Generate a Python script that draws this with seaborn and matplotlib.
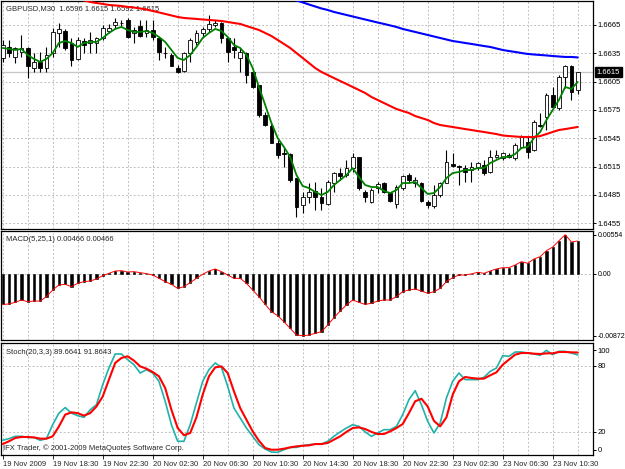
import numpy as np
import matplotlib
matplotlib.use("Agg")
import matplotlib.pyplot as plt
import matplotlib.transforms as mtransforms
import seaborn as sns

# GBPUSD M30 bars
opens = [1.6630, 1.6642, 1.6631, 1.6636, 1.6641, 1.6619, 1.6626, 1.6619, 1.6635, 1.6657,
         1.6659, 1.6646, 1.6629, 1.6648, 1.6646, 1.6646, 1.6651, 1.6659, 1.6665, 1.6667,
         1.6670, 1.6657, 1.6664, 1.6657, 1.6660, 1.6651, 1.6635, 1.6633, 1.6619, 1.6616,
         1.6635, 1.6647, 1.6657, 1.6661, 1.6665, 1.6667, 1.6651, 1.6642, 1.6630, 1.6635,
         1.6615, 1.6601, 1.6570, 1.6558, 1.6540, 1.6529, 1.6528, 1.6503, 1.6474, 1.6483,
         1.6489, 1.6483, 1.6475, 1.6498, 1.6508, 1.6506, 1.6513, 1.6525, 1.6488, 1.6477,
         1.6492, 1.6498, 1.6487, 1.6475, 1.6492, 1.6506, 1.6498, 1.6498, 1.6477, 1.6473,
         1.6485, 1.6498, 1.6518, 1.6516, 1.6513, 1.6511, 1.6515, 1.6517, 1.6509, 1.6525,
         1.6524, 1.6527, 1.6524, 1.6536, 1.6541, 1.6533, 1.6559, 1.6568, 1.6591, 1.6577,
         1.6610, 1.6622, 1.6596]
highs = [1.6649, 1.6649, 1.6642, 1.6654, 1.6642, 1.6635, 1.6636, 1.6642, 1.6662, 1.6667,
         1.6661, 1.6651, 1.6652, 1.6651, 1.6658, 1.6652, 1.6665, 1.6666, 1.6672, 1.6670,
         1.6672, 1.6663, 1.6670, 1.6670, 1.6670, 1.6652, 1.6642, 1.6635, 1.6623, 1.6636,
         1.6651, 1.6660, 1.6663, 1.6676, 1.6670, 1.6668, 1.6652, 1.6651, 1.6641, 1.6636,
         1.6616, 1.6601, 1.6573, 1.6561, 1.6543, 1.6535, 1.6529, 1.6503, 1.6488, 1.6498,
         1.6499, 1.6492, 1.6501, 1.6509, 1.6513, 1.6522, 1.6529, 1.6525, 1.6490, 1.6492,
         1.6499, 1.6499, 1.6488, 1.6495, 1.6506, 1.6508, 1.6504, 1.6499, 1.6480, 1.6495,
         1.6499, 1.6533, 1.6529, 1.6517, 1.6517, 1.6520, 1.6520, 1.6522, 1.6533, 1.6533,
         1.6530, 1.6529, 1.6540, 1.6548, 1.6546, 1.6564, 1.6572, 1.6593, 1.6599, 1.6612,
         1.6623, 1.6623, 1.6615]
lows = [1.6626, 1.6631, 1.6625, 1.6631, 1.6609, 1.6615, 1.6615, 1.6615, 1.6631, 1.6642,
        1.6639, 1.6621, 1.6628, 1.6635, 1.6635, 1.6635, 1.6649, 1.6656, 1.6662, 1.6663,
        1.6651, 1.6646, 1.6652, 1.6652, 1.6649, 1.6628, 1.6630, 1.6621, 1.6614, 1.6615,
        1.6626, 1.6644, 1.6652, 1.6658, 1.6663, 1.6646, 1.6626, 1.6630, 1.6615, 1.6604,
        1.6598, 1.6568, 1.6558, 1.6540, 1.6524, 1.6515, 1.6499, 1.6462, 1.6466, 1.6476,
        1.6469, 1.6469, 1.6474, 1.6488, 1.6501, 1.6504, 1.6509, 1.6490, 1.6477, 1.6476,
        1.6487, 1.6487, 1.6477, 1.6471, 1.6490, 1.6498, 1.6493, 1.6477, 1.6471, 1.6471,
        1.6483, 1.6498, 1.6515, 1.6495, 1.6499, 1.6499, 1.6511, 1.6506, 1.6508, 1.6524,
        1.6522, 1.6524, 1.6522, 1.6535, 1.6524, 1.6531, 1.6557, 1.6554, 1.6577, 1.6575,
        1.6598, 1.6586, 1.6592]
closes = [1.6644, 1.6635, 1.6641, 1.6641, 1.6621, 1.6626, 1.6619, 1.6633, 1.6658, 1.6661,
          1.6641, 1.6628, 1.6649, 1.6644, 1.6649, 1.6651, 1.6662, 1.6662, 1.6668, 1.6667,
          1.6652, 1.6660, 1.6653, 1.6660, 1.6652, 1.6636, 1.6635, 1.6621, 1.6615, 1.6635,
          1.6649, 1.6657, 1.6661, 1.6666, 1.6667, 1.6651, 1.6636, 1.6639, 1.6636, 1.6612,
          1.6599, 1.6570, 1.6559, 1.6540, 1.6527, 1.6528, 1.6501, 1.6472, 1.6483, 1.6488,
          1.6483, 1.6476, 1.6499, 1.6508, 1.6505, 1.6513, 1.6525, 1.6492, 1.6483, 1.6490,
          1.6496, 1.6488, 1.6478, 1.6493, 1.6505, 1.6501, 1.6501, 1.6478, 1.6474, 1.6485,
          1.6498, 1.6520, 1.6516, 1.6515, 1.6509, 1.6515, 1.6519, 1.6508, 1.6525, 1.6527,
          1.6529, 1.6525, 1.6538, 1.6546, 1.6530, 1.6562, 1.6558, 1.6591, 1.6578, 1.6610,
          1.6621, 1.6594, 1.6615]

# moving averages (red and blue only enter the visible window later on)
ma_green = [1.66406, 1.66396, 1.66385, 1.66396, 1.66332, 1.66290, 1.66258, 1.66290, 1.66353, 1.66459,
            1.66480, 1.66459, 1.66417, 1.66459, 1.66470, 1.66470, 1.66512, 1.66565, 1.66608, 1.66629,
            1.66597, 1.66576, 1.66576, 1.66586, 1.66565, 1.66523, 1.66470, 1.66385, 1.66300, 1.66279,
            1.66332, 1.66417, 1.66512, 1.66565, 1.66608, 1.66586, 1.66523, 1.66438, 1.66406, 1.66332,
            1.66194, 1.65993, 1.65802, 1.65611, 1.65452, 1.65357, 1.65251, 1.65060, 1.64943, 1.64922,
            1.64880, 1.64848, 1.64880, 1.64954, 1.65007, 1.65060, 1.65134, 1.65039, 1.64954, 1.64933,
            1.64933, 1.64891, 1.64869, 1.64901, 1.64975, 1.64975, 1.64986, 1.64922, 1.64859, 1.64869,
            1.64933, 1.65028, 1.65081, 1.65092, 1.65113, 1.65113, 1.65134, 1.65134, 1.65187, 1.65219,
            1.65251, 1.65251, 1.65283, 1.65347, 1.65357, 1.65452, 1.65516, 1.65643, 1.65749, 1.65855,
            1.65993, 1.65972, 1.66046]
ma_red = [1.66910, 1.66894, 1.66883, 1.66873, 1.66862, 1.66857, 1.66851, 1.66841, 1.66835, 1.66825,
          1.66814, 1.66798, 1.66783, 1.66767, 1.66751, 1.66735, 1.66724, 1.66719, 1.66714, 1.66708,
          1.66703, 1.66698, 1.66692, 1.66682, 1.66671, 1.66661, 1.66639, 1.66618, 1.66597, 1.66565,
          1.66533, 1.66491, 1.66449, 1.66406, 1.66353, 1.66300, 1.66247, 1.66194, 1.66152, 1.66120,
          1.66088, 1.66056, 1.66025, 1.65993, 1.65961, 1.65929, 1.65887, 1.65855, 1.65823, 1.65791,
          1.65760, 1.65738, 1.65717, 1.65685, 1.65664, 1.65643, 1.65611, 1.65590, 1.65579, 1.65569,
          1.65558, 1.65547, 1.65537, 1.65526, 1.65516, 1.65505, 1.65494, 1.65479, 1.65473, 1.65468,
          1.65463, 1.65463, 1.65463, 1.65473, 1.65494, 1.65516, 1.65537, 1.65547, 1.65558, 1.65569]
ma_blue = [1.66910, 1.66889, 1.66867, 1.66846, 1.66825, 1.66809, 1.66788, 1.66772, 1.66756, 1.66740,
           1.66724, 1.66708, 1.66692, 1.66676, 1.66661, 1.66645, 1.66629, 1.66608, 1.66592, 1.66576,
           1.66560, 1.66544, 1.66528, 1.66512, 1.66496, 1.66480, 1.66470, 1.66459, 1.66449, 1.66438,
           1.66427, 1.66417, 1.66401, 1.66385, 1.66374, 1.66364, 1.66353, 1.66343, 1.66337, 1.66332,
           1.66327, 1.66321, 1.66316, 1.66311, 1.66311, 1.66306]

# MACD(5,25,1); with signal period 1 the signal equals the main line
macd = [-0.00429, -0.00424, -0.00400, -0.00367, -0.00391, -0.00382, -0.00382, -0.00320, -0.00226, -0.00155,
        -0.00146, -0.00179, -0.00132, -0.00108, -0.00099, -0.00071, -0.00024, 0.00009, 0.00042, 0.00047,
        0.00028, 0.00033, 0.00019, 0.00005, -0.00014, -0.00061, -0.00108, -0.00146, -0.00203, -0.00179,
        -0.00122, -0.00061, -0.00005, 0.00042, 0.00071, 0.00033, -0.00014, -0.00061, -0.00061, -0.00132,
        -0.00226, -0.00320, -0.00429, -0.00532, -0.00589, -0.00674, -0.00768, -0.00860, -0.00872, -0.00862,
        -0.00838, -0.00815, -0.00721, -0.00617, -0.00523, -0.00438, -0.00367, -0.00400, -0.00429, -0.00414,
        -0.00382, -0.00367, -0.00367, -0.00320, -0.00250, -0.00226, -0.00212, -0.00240, -0.00273, -0.00250,
        -0.00203, -0.00108, -0.00052, -0.00014, -0.00014, 0.00002, 0.00024, 0.00009, 0.00042, 0.00071,
        0.00089, 0.00089, 0.00127, 0.00174, 0.00151, 0.00212, 0.00245, 0.00330, 0.00380, 0.00470,
        0.00554, 0.00452, 0.00466]

# Stoch(20,3,3)
stoch_main = [12.4, 13.9, 16.0, 16.0, 15.0, 15.0, 12.4, 13.9, 26.5, 37.0,
              42.0, 37.0, 34.7, 33.2, 40.0, 44.6, 62.7, 77.8, 90.5, 90.5,
              85.4, 80.8, 73.3, 76.3, 73.3, 65.8, 47.7, 26.5, 11.5, 11.5,
              26.5, 46.2, 65.8, 76.3, 82.4, 78.4, 61.2, 41.6, 32.6, 23.5,
              16.0, 8.4, 4.5, 1.8, 1.5, 3.9, 6.0, 6.0, 7.5, 8.4,
              9.0, 9.0, 11.5, 16.0, 20.0, 23.5, 26.5, 25.0, 20.0, 16.0,
              19.0, 22.0, 22.0, 25.0, 35.6, 49.2, 57.3, 44.6, 29.6, 19.0,
              28.0, 50.7, 65.8, 73.3, 67.3, 67.3, 67.3, 69.4, 74.8, 77.8,
              89.0, 88.4, 92.3, 92.3, 91.4, 90.5, 89.3, 93.8, 89.9, 92.9,
              92.9, 91.4, 89.6641]
stoch_signal = [9.0, 11.5, 14.5, 15.4, 15.4, 15.0, 13.9, 13.9, 16.0, 25.0,
                35.6, 37.7, 37.0, 34.7, 37.0, 43.0, 52.0, 67.3, 82.4, 86.9,
                88.4, 84.5, 79.3, 77.2, 74.2, 70.3, 59.7, 40.0, 23.5, 17.0,
                19.0, 33.2, 53.7, 70.3, 78.4, 79.3, 73.3, 56.7, 41.6, 31.0,
                20.5, 12.0, 5.4, 3.9, 3.9, 4.8, 6.0, 6.9, 7.5, 7.8,
                9.0, 9.0, 10.0, 13.0, 16.0, 20.0, 23.5, 24.1, 22.6, 20.0,
                18.1, 18.1, 20.5, 23.5, 27.1, 37.0, 47.7, 50.0, 43.0, 30.0,
                25.0, 33.2, 53.7, 65.8, 69.7, 68.8, 68.2, 68.2, 71.2, 73.9,
                80.8, 85.4, 89.9, 91.4, 91.4, 90.8, 90.5, 91.1, 91.1, 92.3,
                92.3, 92.0, 91.8643]

time_labels = ['19 Nov 2009', '19 Nov 18:30', '19 Nov 22:30', '20 Nov 02:30', '20 Nov 06:30',
               '20 Nov 10:30', '20 Nov 14:30', '20 Nov 18:30', '20 Nov 22:30', '23 Nov 02:30',
               '23 Nov 06:30', '23 Nov 10:30']
price_ticks = [1.6665, 1.6635, 1.6605, 1.6575, 1.6545, 1.6515, 1.6485, 1.6455]
macd_ticks = [0.00554, 0.0, -0.00872]
macd_tick_labels = ['0.00554', '0.00', '-0.00872']

sns.set_style("white")
plt.rcParams['font.family'] = ['Liberation Sans', 'DejaVu Sans']
FS = 5.5

n = len(closes)
bars = np.arange(n)
W, H = 625, 469


def box(x0, y0, x1, y1):
    # pixel rectangle -> figure fraction
    return [x0 / W, 1 - y1 / H, (x1 - x0) / W, (y1 - y0) / H]


fig = plt.figure(figsize=(W / 100, H / 100), dpi=100)
ax_p = fig.add_axes(box(1, 1, 593, 229))
ax_m = fig.add_axes(box(1, 231, 593, 340))
ax_s = fig.add_axes(box(1, 343, 593, 455))

grid_kw = dict(color='#c0c0c0', lw=0.7, dashes=(2, 2), zorder=0)
for ax in (ax_p, ax_m, ax_s):
    ax.set_xlim(-0.27, 94.45)
    for b in range(0, n, 4):
        ax.axvline(b, **grid_kw)
    for sp in ax.spines.values():
        sp.set_color('black')
        sp.set_linewidth(0.9)
    ax.yaxis.tick_right()
    ax.tick_params(axis='y', length=2, width=0.7, pad=1.2, labelsize=FS, colors='black')

# --- price panel
ax_p.set_ylim(1.64488, 1.66904)
for t in price_ticks:
    ax_p.axhline(t, **grid_kw)
ax_p.axhline(closes[-1], color='#c8c8c8', lw=1.0, zorder=0.5)

o = np.array(opens)
c = np.array(closes)
up = c >= o
ax_p.vlines(bars, lows, highs, color='black', lw=0.8, zorder=2)
ax_p.bar(bars, np.maximum(np.abs(c - o), 0.00002), bottom=np.minimum(o, c), width=0.62,
         color=np.where(up, 'white', 'black'), edgecolor='black', linewidth=0.6, zorder=3)

sns.lineplot(x=bars, y=ma_green, color='#008000', lw=1.3, ax=ax_p, zorder=4)
sns.lineplot(x=bars[-len(ma_red):], y=ma_red, color='#ff0000', lw=1.5, ax=ax_p, zorder=4)
sns.lineplot(x=bars[-len(ma_blue):], y=ma_blue, color='#0000ff', lw=1.5, ax=ax_p, zorder=4)

ax_p.set_yticks(price_ticks)
ax_p.set_yticklabels([f'{t:.4f}' for t in price_ticks])
ax_p.set_xticks([])
ax_p.set_ylabel('')
tr = mtransforms.blended_transform_factory(ax_p.transAxes, ax_p.transData)
ax_p.text(1.006, closes[-1], f'{closes[-1]:.4f}', transform=tr, color='white', va='center',
          ha='left', fontsize=FS, bbox=dict(facecolor='black', edgecolor='black', pad=1.2))
ax_p.text(0.008, 0.968, f'GBPUSD,M30  {opens[-1]:.4f} {highs[-1]:.4f} {lows[-1]:.4f} {closes[-1]:.4f}',
          transform=ax_p.transAxes, ha='left', va='center', fontsize=FS)

# --- MACD panel
ax_m.set_ylim(-0.00932, 0.00607)
ax_m.axhline(0, **grid_kw)
ax_m.bar(bars, macd, width=0.38, color='black', edgecolor='black', linewidth=0.4, zorder=2)
sns.lineplot(x=bars, y=macd, color='#ff0000', lw=0.7, ax=ax_m, zorder=3)
ax_m.set_yticks(macd_ticks)
ax_m.set_yticklabels(macd_tick_labels)
ax_m.tick_params(axis='y', labelsize=5.0)
ax_m.set_xticks([])
ax_m.set_ylabel('')
ax_m.text(0.008, 0.925, f'MACD(5,25,1) {macd[-1]:.5f} {macd[-1]:.5f}',
          transform=ax_m.transAxes, ha='left', va='center', fontsize=FS)

# --- Stochastic panel
ax_s.set_ylim(-0.9, 100.45)
for lvl in (80, 20):
    ax_s.axhline(lvl, **grid_kw)
sns.lineplot(x=bars, y=stoch_main, color='#20b2aa', lw=1.2, ax=ax_s, zorder=3)
sns.lineplot(x=bars, y=stoch_signal, color='#ff0000', lw=1.5, ax=ax_s, zorder=4)
ax_s.set_yticks([94, 80, 20, 4])
ax_s.set_yticklabels(['100', '80', '20', '0'])
ax_s.set_xticks(range(0, n, 8))
ax_s.set_xticklabels(time_labels, ha='left')
ax_s.tick_params(axis='x', length=3, width=0.7, pad=1.5, labelsize=FS, bottom=True)
ax_s.set_ylabel('')
ax_s.text(0.008, 0.915, f'Stoch(20,3,3) {stoch_main[-1]:.4f} {stoch_signal[-1]:.4f}',
          transform=ax_s.transAxes, ha='left', va='center', fontsize=FS)
ax_s.text(0.004, 0.065, 'IFX Trader, © 2001-2009 MetaQuotes Software Corp.',
          transform=ax_s.transAxes, ha='left', va='center', fontsize=FS)

fig.savefig('out.png', dpi=100)
